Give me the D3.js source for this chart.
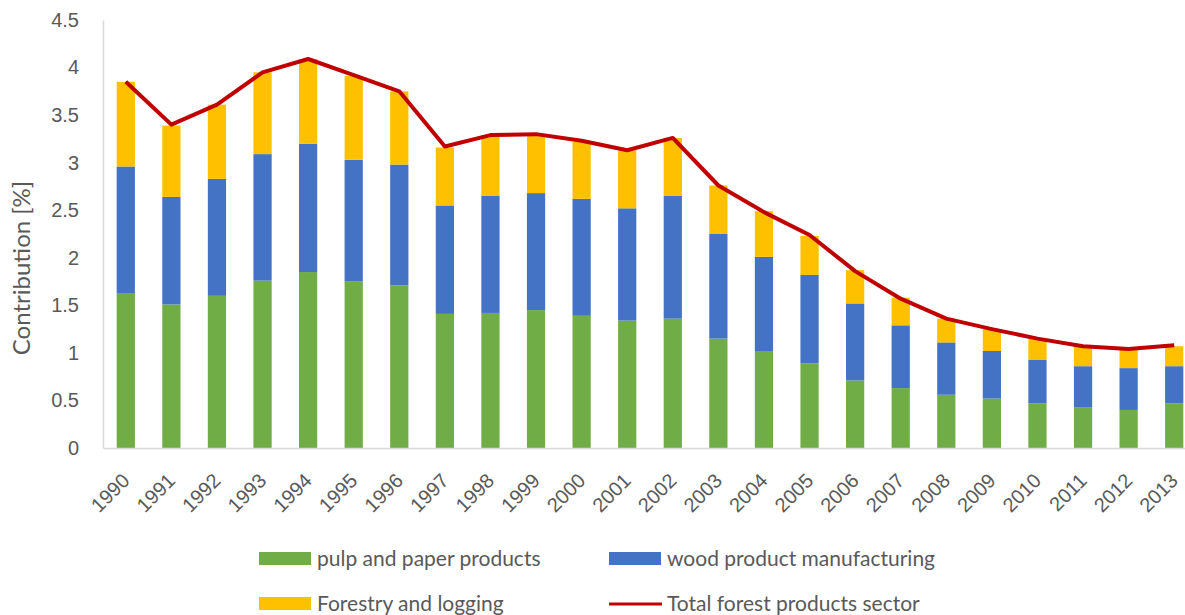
<!DOCTYPE html>
<html>
<head>
<meta charset="utf-8">
<script src="https://cdn.jsdelivr.net/npm/d3@7"></script>
<style>
  body { margin: 0; background: #fff; }
  svg { font-family: Lato, "Open Sans", sans-serif; }
  .axis text { fill: #595959; font-size: 20px; }
  .axis path { stroke: #d9d9d9; stroke-width: 1.5; }
</style>
</head>
<body>
<script>
let w = 1185;
let h = 615;

let years = ["1990", "1991", "1992", "1993", "1994", "1995", "1996", "1997", "1998", "1999", "2000", "2001",
  "2002", "2003", "2004", "2005", "2006", "2007", "2008", "2009", "2010", "2011", "2012", "2013"];

// stacked pieces
let pulp = [1.63, 1.51, 1.60, 1.76, 1.85, 1.75, 1.71, 1.41, 1.42, 1.45, 1.39, 1.34,
  1.36, 1.15, 1.02, 0.89, 0.71, 0.63, 0.56, 0.52, 0.47, 0.43, 0.40, 0.47];
let wood = [1.33, 1.13, 1.23, 1.33, 1.35, 1.28, 1.27, 1.14, 1.23, 1.23, 1.23, 1.18,
  1.29, 1.10, 0.99, 0.93, 0.81, 0.66, 0.55, 0.50, 0.46, 0.43, 0.44, 0.39];
let forestry = [0.89, 0.75, 0.78, 0.86, 0.89, 0.88, 0.77, 0.61, 0.64, 0.62, 0.60, 0.61,
  0.61, 0.51, 0.48, 0.41, 0.35, 0.29, 0.25, 0.23, 0.22, 0.21, 0.20, 0.21];
let total = [3.85, 3.40, 3.61, 3.95, 4.09, 3.92, 3.75, 3.17, 3.29, 3.30, 3.23, 3.13,
  3.26, 2.76, 2.48, 2.24, 1.86, 1.57, 1.36, 1.25, 1.15, 1.07, 1.04, 1.08];

let yTicks = [0, 0.5, 1, 1.5, 2, 2.5, 3, 3.5, 4, 4.5];

let seriesNames = ["pulp and paper products", "wood product manufacturing", "Forestry and logging"];
let lineName = "Total forest products sector";
let colors = ["#70ad47", "#4472c4", "#ffc000"];
let lineColor = "#c00000";

let rows = years.map((y, i) => ({ year: y, pulp: pulp[i], wood: wood[i], forestry: forestry[i] }));
let stack = d3.stack().keys(["pulp", "wood", "forestry"])(rows);

let xScale = d3.scaleBand()
  .domain(years)
  .range([103, 1197])
  .paddingInner(0.6)
  .paddingOuter(0.3);

let yScale = d3.scaleLinear()
  .domain([0, 4.5])
  .range([448, 20]);

let svg = d3.select("body")
  .append("svg")
  .attr("width", w)
  .attr("height", h);

// bars
svg.selectAll("g.layer")
  .data(stack)
  .enter()
  .append("g")
  .attr("class", "layer")
  .attr("fill", (d, i) => colors[i])
  .selectAll("rect")
  .data((d) => d)
  .enter()
  .append("rect")
  .attr("x", (d) => xScale(d.data.year))
  .attr("width", xScale.bandwidth())
  .attr("y", (d) => yScale(d[1]))
  .attr("height", (d) => yScale(d[0]) - yScale(d[1]));

// axes
let yAxis = d3.axisLeft(yScale)
  .tickValues(yTicks)
  .tickFormat((d) => String(d))
  .tickSize(0)
  .tickPadding(24);

svg.append("g")
  .attr("class", "axis")
  .attr("transform", "translate(103,0)")
  .call(yAxis);

let xAxis = d3.axisBottom(xScale)
  .tickSize(0)
  .tickSizeOuter(0);

let gx = svg.append("g")
  .attr("class", "axis")
  .attr("transform", "translate(0,448)")
  .call(xAxis);

gx.selectAll("text")
  .attr("text-anchor", "end")
  .attr("dy", null)
  .attr("y", 0)
  .attr("transform", "translate(5,34) rotate(-45)");

// total line
let line = d3.line()
  .x((d, i) => xScale(years[i]) + xScale.bandwidth() / 2)
  .y((d) => yScale(d));

svg.append("path")
  .datum(total)
  .attr("d", line)
  .attr("fill", "none")
  .attr("stroke", lineColor)
  .attr("stroke-width", 4)
  .attr("stroke-linejoin", "round");

// y title
svg.append("text")
  .attr("transform", "translate(30,268) rotate(-90)")
  .attr("text-anchor", "middle")
  .attr("fill", "#595959")
  .attr("font-size", 24)
  .text("Contribution [%]");

// legend
let legendItems = [
  { name: seriesNames[0], color: colors[0], x: 259, y: 559, kind: "rect" },
  { name: seriesNames[1], color: colors[1], x: 609, y: 559, kind: "rect" },
  { name: seriesNames[2], color: colors[2], x: 259, y: 604, kind: "rect" },
  { name: lineName, color: lineColor, x: 609, y: 604, kind: "line" }
];

let lg = svg.selectAll("g.legend")
  .data(legendItems)
  .enter()
  .append("g")
  .attr("class", "legend")
  .attr("transform", (d) => "translate(" + d.x + "," + d.y + ")");

lg.filter((d) => d.kind === "rect")
  .append("rect")
  .attr("x", 0)
  .attr("y", -7)
  .attr("width", 52)
  .attr("height", 13)
  .attr("fill", (d) => d.color);

lg.filter((d) => d.kind === "line")
  .append("line")
  .attr("x1", 0)
  .attr("x2", 53)
  .attr("y1", 0)
  .attr("y2", 0)
  .attr("stroke", (d) => d.color)
  .attr("stroke-width", 3);

lg.append("text")
  .attr("x", 58)
  .attr("y", 0)
  .attr("dy", "0.35em")
  .attr("fill", "#595959")
  .attr("font-size", 21)
  .text((d) => d.name);
</script>
</body>
</html>
